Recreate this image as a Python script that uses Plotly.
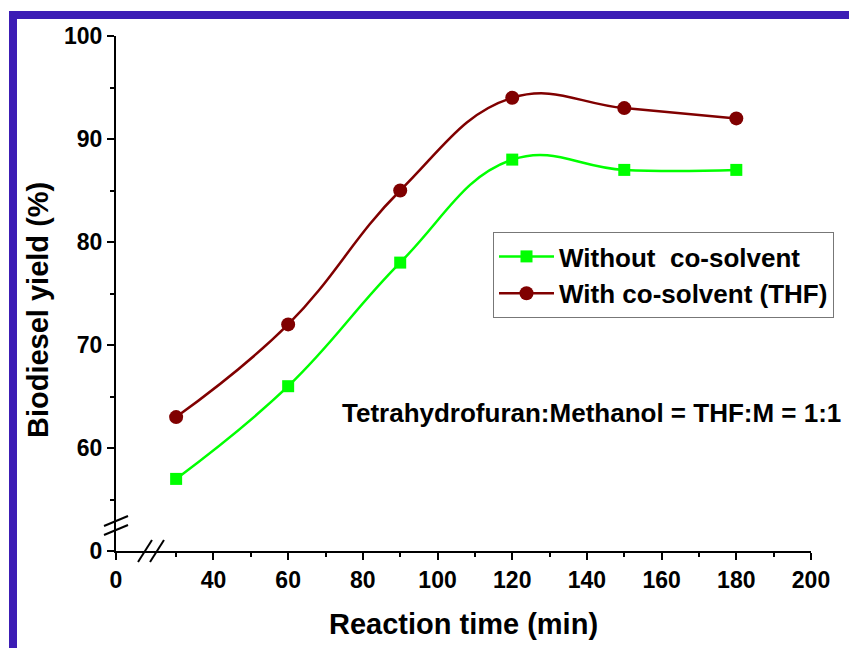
import plotly.graph_objects as go

# Reaction time (min) and biodiesel yield (%)
time_min = [30, 60, 90, 120, 150, 180]
yield_without = [57, 66, 78, 88, 87, 87]
yield_with_thf = [63, 72, 85, 94, 93, 92]

x_tick_vals = [40, 60, 80, 100, 120, 140, 160, 180, 200]
x_minor_vals = [30, 50, 70, 90, 110, 130, 150, 170, 190]
y_tick_vals = [60, 70, 80, 90, 100]
y_minor_vals = [55, 65, 75, 85, 95]

# axis breaks: the first tick on each axis is labelled "0"
X_ZERO = 13.9
Y_ZERO = 50.0

W, H = 849, 648
L, R, T, B = 116, 38, 36, 97
PW, PH = W - L - R, H - T - B

FONT = "Liberation Sans, Arial, sans-serif"
GREEN = "#00FF00"
DARKRED = "#800000"
FRAME = "#3C1DB5"
TICK_SIZE = 23


def bold(size):
    return dict(family=FONT, size=size, color="black", weight="bold")


def btxt(v):
    return "<b>" + str(v) + "</b>"


def px_x(p):
    return (p - L) / PW


def px_y(p):
    return (H - B - p) / PH


fig = go.Figure()
fig.add_trace(go.Scatter(
    x=time_min, y=yield_without, name="Without  co-solvent",
    mode="lines+markers", line=dict(color=GREEN, width=2.5, shape="spline", smoothing=1.2),
    marker=dict(symbol="square", size=12, color=GREEN),
))
fig.add_trace(go.Scatter(
    x=time_min, y=yield_with_thf, name="With co-solvent (THF)",
    mode="lines+markers", line=dict(color=DARKRED, width=2.5, shape="spline", smoothing=1.2),
    marker=dict(symbol="circle", size=14, color=DARKRED),
))

shapes = []
# purple frame on top and left
shapes.append(dict(type="rect", xref="paper", yref="paper",
                   x0=px_x(9), x1=px_x(W + 5), y0=px_y(19), y1=px_y(11),
                   fillcolor=FRAME, line=dict(width=0), layer="above"))
shapes.append(dict(type="rect", xref="paper", yref="paper",
                   x0=px_x(9), x1=px_x(17), y0=px_y(H + 5), y1=px_y(11),
                   fillcolor=FRAME, line=dict(width=0), layer="above"))

# axis break marks
for cx in (145, 157):
    shapes.append(dict(type="line", xref="paper", yref="paper",
                       x0=px_x(cx - 7), x1=px_x(cx + 7),
                       y0=px_y(562), y1=px_y(540),
                       line=dict(color="black", width=2)))
for cy in (521, 530):
    shapes.append(dict(type="line", xref="paper", yref="paper",
                       x0=px_x(104), x1=px_x(128),
                       y0=px_y(cy + 5), y1=px_y(cy - 5),
                       line=dict(color="black", width=2)))

fig.update_layout(
    width=W, height=H,
    margin=dict(l=L, r=R, t=T, b=B),
    paper_bgcolor="white", plot_bgcolor="white",
    font=dict(family=FONT, color="black"),
    showlegend=True,
    legend=dict(
        x=px_x(493), y=px_y(232), xanchor="left", yanchor="top",
        bgcolor="white", bordercolor="#777777", borderwidth=1,
        font=bold(26), itemwidth=55, tracegroupgap=0,
    ),
    shapes=shapes,
    annotations=[
        dict(text="Tetrahydrofuran:Methanol = THF:M = 1:1",
             xref="paper", yref="paper", x=px_x(591), y=px_y(413),
             xanchor="center", yanchor="middle", showarrow=False,
             font=bold(26)),
        dict(text="Biodiesel yield (%)", textangle=-90,
             xref="paper", yref="paper", x=px_x(38), y=px_y(310),
             xanchor="center", yanchor="middle", showarrow=False,
             font=bold(29)),
    ],
)

fig.update_xaxes(
    range=[X_ZERO, 200], showgrid=False, zeroline=False,
    showline=True, linecolor="black", linewidth=2,
    tickmode="array", tickvals=[X_ZERO] + x_tick_vals,
    ticktext=[btxt(0)] + [btxt(v) for v in x_tick_vals],
    ticks="outside", ticklen=7, tickwidth=2, tickcolor="black",
    minor=dict(tickmode="array", tickvals=x_minor_vals, ticks="outside",
               ticklen=4, tickwidth=2, tickcolor="black"),
    tickfont=dict(family=FONT, size=TICK_SIZE, color="black"),
    title=dict(text="Reaction time (min)", standoff=22, font=bold(29)),
)
fig.update_yaxes(
    range=[Y_ZERO, 100], showgrid=False, zeroline=False,
    showline=True, linecolor="black", linewidth=2,
    tickmode="array", tickvals=[Y_ZERO] + y_tick_vals,
    ticktext=[btxt(0)] + [btxt(v) for v in y_tick_vals],
    ticks="outside", ticklen=7, tickwidth=2, tickcolor="black",
    minor=dict(tickmode="array", tickvals=y_minor_vals, ticks="outside",
               ticklen=4, tickwidth=2, tickcolor="black"),
    tickfont=dict(family=FONT, size=TICK_SIZE, color="black"),
)

fig.write_html("out.html")
